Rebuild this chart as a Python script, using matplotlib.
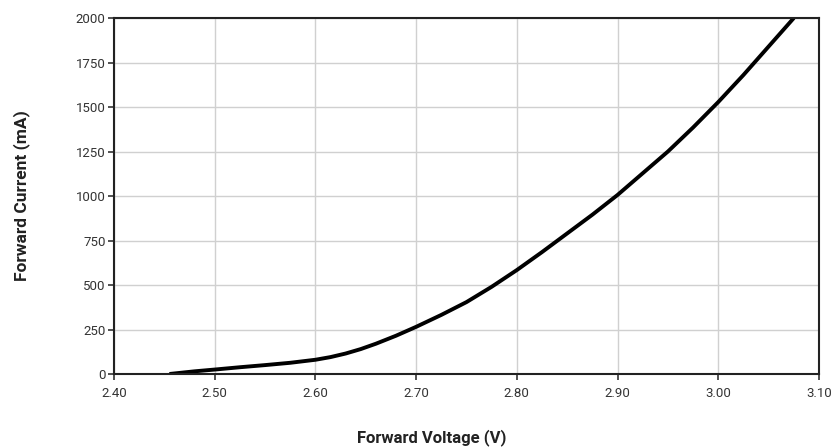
import numpy as np
import matplotlib
matplotlib.use('Agg')
import matplotlib.pyplot as plt

# forward voltage (V) vs forward current (mA)
voltage = [2.455, 2.48, 2.50, 2.525, 2.55, 2.575, 2.60, 2.615, 2.63, 2.645, 2.66,
           2.68, 2.70, 2.725, 2.75, 2.775, 2.80, 2.825, 2.85, 2.875, 2.90,
           2.925, 2.95, 2.975, 3.00, 3.025, 3.05, 3.075]
current = [0, 15, 25, 38, 50, 63, 80, 95, 115, 140, 170,
           215, 265, 332, 404, 490, 584, 685, 790, 895, 1006,
           1128, 1250, 1385, 1528, 1680, 1840, 2000]

xticks = [2.40, 2.50, 2.60, 2.70, 2.80, 2.90, 3.00, 3.10]
yticks = [0, 250, 500, 750, 1000, 1250, 1500, 1750, 2000]

plt.rcParams['font.family'] = ['Roboto', 'DejaVu Sans']

fig = plt.figure(figsize=(8.32, 4.48), dpi=100)
ax = fig.add_axes([114/832, 1 - 374/448, (819 - 114)/832, (374 - 18)/448])

ax.plot(voltage, current, color='black', linewidth=2.8, solid_capstyle='butt')

ax.set_xlim(2.40, 3.10)
ax.set_ylim(0, 2000)
ax.set_xticks(xticks)
ax.set_xticklabels(['%.2f' % v for v in xticks])
ax.set_yticks(yticks)
ax.grid(True, color='#d0d0d0', linewidth=1.0)
ax.set_axisbelow(True)
for s in ax.spines.values():
    s.set_color('#222222')
    s.set_linewidth(1.5)
ax.tick_params(axis='both', labelsize=9.5, colors='#333333', length=4, width=1.2, direction='out')
ax.tick_params(axis='x', pad=5)
ax.tick_params(axis='y', pad=2)

ax.set_xlabel('Forward Voltage (V)', fontsize=12, fontweight='bold', color='#222222')
ax.xaxis.set_label_coords(0.451, -0.155)
ax.set_ylabel('Forward Current (mA)', fontsize=12.5, fontweight='bold', color='#222222', labelpad=33)

plt.savefig('out.png', dpi=100)
